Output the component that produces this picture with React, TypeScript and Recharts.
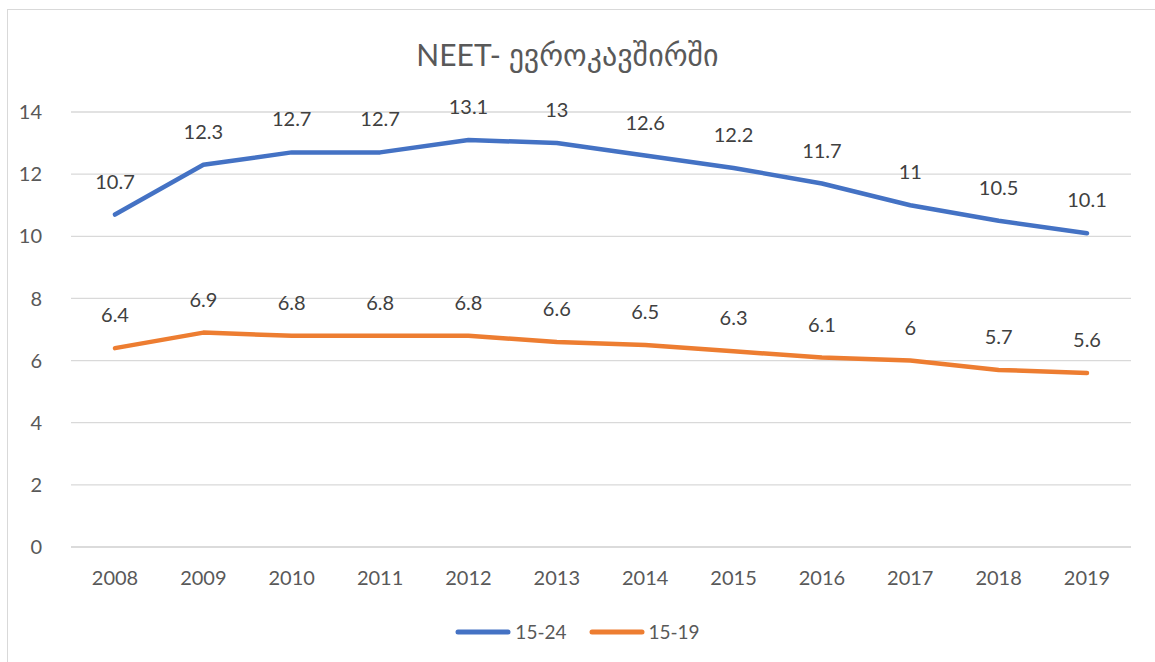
import { LineChart, Line, XAxis, YAxis, CartesianGrid, Legend, LabelList } from 'recharts'

const YEARS = ['2008', '2009', '2010', '2011', '2012', '2013', '2014', '2015', '2016', '2017', '2018', '2019']
const AGE_15_24 = [10.7, 12.3, 12.7, 12.7, 13.1, 13, 12.6, 12.2, 11.7, 11, 10.5, 10.1]
const AGE_15_19 = [6.4, 6.9, 6.8, 6.8, 6.8, 6.6, 6.5, 6.3, 6.1, 6, 5.7, 5.6]
const Y_TICKS = [0, 2, 4, 6, 8, 10, 12, 14]

const SERIES = [
  { key: 'a', name: '15-24', color: '#4472C4' },
  { key: 'b', name: '15-19', color: '#ED7D31' },
]

const FONT = "Lato, 'DejaVu Sans', sans-serif"

const data = YEARS.map((year, i) => ({ year, a: AGE_15_24[i], b: AGE_15_19[i] }))

const renderLabel = (props: any) => {
  const { x, y, value } = props
  return (
    <text x={x} y={y - 31} textAnchor="middle" dominantBaseline="middle"
      fontSize={20} fill="#404040" fontFamily={FONT}>
      {value}
    </text>
  )
}

const renderLegend = () => (
  <div style={{ display: 'flex', justifyContent: 'center', alignItems: 'center', gap: 22, fontFamily: FONT }}>
    {SERIES.map(s => (
      <div key={s.key} style={{ display: 'flex', alignItems: 'center', gap: 4 }}>
        <svg width={56} height={8}>
          <line x1={3} y1={4} x2={53} y2={4} stroke={s.color} strokeWidth={5} strokeLinecap="round" />
        </svg>
        <span style={{ fontSize: 19, color: '#595959' }}>{s.name}</span>
      </div>
    ))}
  </div>
)

export default function App() {
  return (
    <div style={{ position: 'absolute', left: 0, top: 0, width: 1155, height: 662, background: '#fff', overflow: 'hidden' }}>
      <div style={{ position: 'absolute', left: 7, top: 9, width: 1160, height: 670, border: '1.5px solid #d9d9d9', boxSizing: 'border-box' }} />
      <div style={{ position: 'absolute', left: -10, top: 36, width: 1155, textAlign: 'center', fontFamily: FONT, fontSize: 30, color: '#595959' }}>
        NEET- ევროკავშირში
      </div>
      <div style={{ position: 'absolute', left: 0, top: 0 }}>
        <LineChart width={1155} height={662} data={data} margin={{ top: 112, right: 24, left: 21, bottom: 65 }}>
          <CartesianGrid vertical={false} stroke="#d9d9d9" strokeWidth={1.3} />
          <XAxis dataKey="year" height={50} axisLine={{ stroke: '#d9d9d9', strokeWidth: 1.3 }} tickLine={false}
            padding={{ left: 44, right: 44 }}
            tickMargin={18} tick={{ fill: '#595959', fontSize: 20, fontFamily: FONT }} interval={0} />
          <YAxis width={50} domain={[0, 14]} ticks={Y_TICKS} axisLine={false} tickLine={false}
            tickMargin={23} tick={{ fill: '#595959', fontSize: 20, fontFamily: FONT }} />
          <Legend verticalAlign="middle" content={renderLegend}
            wrapperStyle={{ top: 620, left: 0, width: 1155 }} />
          {SERIES.map(s => (
            <Line key={s.key} dataKey={s.key} name={s.name} stroke={s.color} strokeWidth={4.5}
              strokeLinecap="round" strokeLinejoin="round" dot={false} type="linear" isAnimationActive={false}>
              <LabelList dataKey={s.key} content={renderLabel} />
            </Line>
          ))}
        </LineChart>
      </div>
    </div>
  )
}
